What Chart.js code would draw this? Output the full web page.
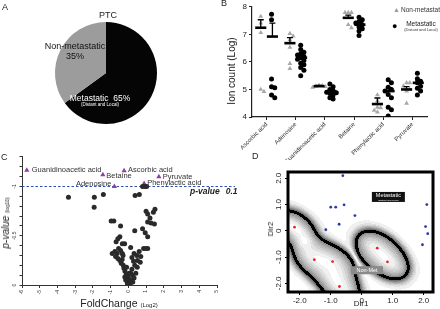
<!DOCTYPE html>
<html><head><meta charset="utf-8">
<script src="https://cdn.jsdelivr.net/npm/chart.js@4.4.1/dist/chart.umd.min.js"></script>
<style>
body{margin:0;width:440px;height:309px;position:relative;overflow:hidden;background:#fff;font-family:"Liberation Sans",Arial,sans-serif;color:#222}
canvas{position:absolute}
.t{position:absolute;white-space:nowrap;line-height:1}
.c{transform:translate(-50%,-50%)}
.r{transform:translate(-50%,-50%) rotate(-90deg)}
</style></head><body>
<canvas id="ca" width="220" height="150" style="left:0;top:0"></canvas>
<canvas id="cb" width="220" height="160" style="left:220px;top:0"></canvas>
<canvas id="cc" width="240" height="159" style="left:0;top:150px"></canvas>
<canvas id="cd" width="170" height="149" style="left:270px;top:160px"></canvas>

<div class="t" style="left:2px;top:3px;font-size:9px">A</div>
<div class="t" style="left:221px;top:-1px;font-size:9px">B</div>
<div class="t" style="left:1px;top:153px;font-size:9px">C</div>
<div class="t" style="left:252px;top:152px;font-size:9px">D</div>

<div class="t c" style="left:108px;top:15px;font-size:9px">PTC</div>
<div class="t c" style="left:75px;top:46px;font-size:9px;color:#111">Non-metastatic</div>
<div class="t c" style="left:75px;top:56px;font-size:9px;color:#111">35%</div>
<div class="t c" style="left:100px;top:98px;font-size:8.5px;color:#fff">Metastatic&nbsp; 65%</div>
<div class="t c" style="left:100px;top:104.5px;font-size:4.5px;color:#fff">(Distant and Local)</div>

<div class="t r" style="left:232px;top:71px;font-size:10px">Ion count (Log)</div>
<div class="t" style="left:393px;top:6px;font-size:7px;color:#9a9a9a">&#9650;</div>
<div class="t" style="left:401px;top:6.5px;font-size:6.5px;color:#333">Non-metastatic</div>
<div class="t" style="left:392px;top:22px;font-size:9px;color:#000">&#9679;</div>
<div class="t c" style="left:421px;top:24px;font-size:6.5px;color:#222">Metastatic</div>
<div class="t c" style="left:421px;top:30px;font-size:4px;color:#333">(Distant and Local)</div>

<div class="t r" style="left:6px;top:223px;font-size:10px"><i>p-value</i> <span style="font-size:5px">(log10)</span></div>
<div class="t c" style="left:119px;top:303px;font-size:10.5px">FoldChange <span style="font-size:6px">(Log2)</span></div>
<div class="t" style="left:190px;top:187px;font-size:8.5px;font-weight:bold;font-style:italic">p-value<span style="margin-left:6px">0.1</span></div>

<div class="t c" style="left:361px;top:304px;font-size:8px">Dir1</div>
<div class="t r" style="left:271px;top:229px;font-size:8px">Dir2</div>

<script>
// ---------- DATA ----------
// Panel A
const pieLabels = ['Metastatic', 'Non-metastatic'];
const pieValues = [65, 35];

// Panel B
const categoriesB = ['Ascorbic acid', 'Adenosine', 'Guanidinoacetic acid', 'Betaine', 'Phenylactic acid', 'Pyruvate'];
const nonMetIon = [
  [7.65, 7.41, 7.06, 5.0, 4.92],
  [7.03, 6.94, 6.8, 6.53, 5.94, 5.76],
  [5.15, 5.13, 5.11, 5.1, 5.08],
  [7.79, 7.79, 7.79, 7.35, 7.24],
  [4.8, 4.59, 4.35, 4.33, 4.24, 4.18],
  [5.24, 5.24, 5.12, 4.94, 5.0, 4.5]
];
const metIon = [
  [7.73, 7.53, 5.38, 5.1, 5.06, 4.8, 4.7],
  [6.6, 6.45, 6.35, 6.3, 6.25, 6.2, 6.15, 6.1, 6.05, 5.95, 5.9, 5.8, 5.7, 5.5],
  [5.2, 5.1, 5.0, 4.95, 4.9, 4.88, 4.85, 4.8, 4.7, 4.65],
  [7.62, 7.53, 7.47, 7.41, 7.35, 7.27, 7.2, 7.12, 6.96],
  [5.35, 5.24, 5.08, 5.0, 4.94, 4.82, 4.7, 4.35, 4.26, 4.04],
  [5.59, 5.39, 5.3, 5.24, 5.12, 5.04, 4.94, 4.8]
];
const nonMetMean = [7.24, 6.68, 5.12, 7.6, 4.47, 5.0];
const metMean = [6.92, 6.15, 4.93, 7.35, 4.94, 5.24];
const nonMetSem = [0.29, 0.2, 0.03, 0.1, 0.22, 0.1];
const metSem = [0.49, 0.1, 0.05, 0.08, 0.12, 0.1];

// Panel C
const foldChange = [-3.38,-1.92,-1.93,-1.41,0.38,0.62,0.8,0.92,1.03,
 -0.97,-0.82,-0.44,0.36,1.0,1.09,1.22,1.5,1.41,1.09,1.28,1.47,0.8,0.95,1.09,
 -0.48,-0.59,-0.69,-0.34,-0.21,0.13,0.86,0.99,1.09,-0.76,-0.91,-0.63,-0.44,-0.34,
 0.32,0.48,0.61,0.7,0.51,0.67,0.29,0.36,-0.72,-0.59,-0.48,-0.4,-0.29,-0.25,
 -0.19,-0.11,-0.06,0,0.04,-0.06,0.1,0.13,0.23,0.32,0.42,
 -0.15,0.15,0.05,-0.1,0.2,-0.02,0.06,-0.2,0.25,-0.3,0.2,0.5,-0.55,-0.35];
const logP = [-0.89,-0.89,-0.79,-0.92,-0.91,-0.92,-1.0,-1.0,-1.0,
 -0.65,-0.65,-0.6,-0.55,-0.75,-0.72,-0.68,-0.77,-0.74,-0.64,-0.63,-0.62,-0.57,-0.53,-0.49,
 -0.49,-0.47,-0.44,-0.42,-0.42,-0.38,-0.37,-0.37,-0.37,-0.34,-0.32,-0.32,-0.35,-0.32,
 -0.32,-0.3,-0.34,-0.29,-0.25,-0.23,-0.24,-0.2,-0.29,-0.27,-0.25,-0.22,-0.2,-0.17,
 -0.14,-0.11,-0.09,-0.07,-0.04,-0.02,-0.01,-0.12,-0.1,-0.07,-0.12,
 -0.05,-0.05,-0.12,-0.18,-0.16,-0.01,0,-0.08,-0.03,-0.3,-0.28,-0.18,-0.37,-0.26];
const sigNames = ['Guanidinoacetic acid','Betaine','Ascorbic acid','Pyruvate','Adenosine','Phenylactic acid'];
const sigFold = [-5.73,-1.44,-0.24,1.72,-0.79,0.89];
const sigLogP = [-1.165,-1.12,-1.16,-1.10,-1.0,-1.03];
const pThreshold = -1; // log10(0.1)

// Panel D
const nonMetDir1 = [-2.17,-1.53,-0.94,-0.72,0.5,0.83];
const nonMetDir2 = [0.14,-1.1,-1.17,-2.12,-0.66,-1.18];
const metDir1 = [-0.61,-1.0,-0.84,-0.57,-0.22,-0.73,-1.16,2.1,2.06,2.13,1.96];
const metDir2 = [2.1,0.9,0.9,0.99,0.58,0.25,0.04,1.0,0.16,-0.11,-0.53];

// ---------- COMMON ----------
Chart.defaults.font.family = '"Liberation Sans", Arial, sans-serif';
Chart.defaults.color = '#222';
const base = {responsive:false, animation:false, devicePixelRatio:1,
  plugins:{legend:{display:false}, tooltip:{enabled:false}}};

// ---------- A ----------
new Chart('ca', {type:'pie',
  data:{labels:pieLabels, datasets:[{data:pieValues, backgroundColor:['#050505','#9c9c9c'], borderWidth:0}]},
  options:{...base, layout:{padding:{left:55,right:63,top:22,bottom:26}}}});

// ---------- B ----------
function swarm(vals, center, step, thr){
  const placed = [];
  return vals.map(v => {
    for (const k of [0,1,-1,2,-2,3,-3]) {
      const x = center + k*step;
      if (!placed.some(p => Math.abs(p.y-v) < thr && Math.abs(p.x-x) < step*0.9)) { placed.push({x,y:v}); return {x,y:v}; }
    }
    placed.push({x:center,y:v}); return {x:center,y:v};
  });
}
const grayPts = [], blackPts = [];
categoriesB.forEach((c,i) => {
  grayPts.push(...swarm(nonMetIon[i], i-0.2, 0.11, 0.14));
  blackPts.push(...swarm(metIon[i], i+0.17, 0.11, 0.14));
});
const meanPlugin = {id:'means', afterDatasetsDraw(chart){
  const {ctx, scales:{x,y}} = chart;
  ctx.save(); ctx.strokeStyle = '#000';
  categoriesB.forEach((c,i) => {
    [[i-0.2, nonMetMean[i], nonMetSem[i]], [i+0.2, metMean[i], metSem[i]]].forEach(([cx,m,s]) => {
      const px = x.getPixelForValue(cx), py = y.getPixelForValue(m), pt = y.getPixelForValue(m+s);
      const hw = (x.getPixelForValue(1)-x.getPixelForValue(0))*0.19;
      ctx.lineWidth = 1.3; ctx.beginPath(); ctx.moveTo(px,py); ctx.lineTo(px,pt);
      ctx.moveTo(px-3,pt); ctx.lineTo(px+3,pt); ctx.stroke();
      ctx.lineWidth = 2.6; ctx.beginPath(); ctx.moveTo(px-hw,py); ctx.lineTo(px+hw,py); ctx.stroke();
    });
  });
  ctx.restore();
}};
new Chart('cb', {type:'scatter',
  data:{datasets:[
    {data:grayPts, pointStyle:'triangle', radius:2.8, backgroundColor:'#a8a8a8', borderColor:'#a8a8a8', borderWidth:0},
    {data:blackPts, pointStyle:'circle', radius:2.5, backgroundColor:'#000', borderColor:'#000', borderWidth:0}
  ]},
  options:{...base, layout:{padding:{left:0,right:13,top:3,bottom:0}},
    scales:{
      x:{type:'linear', min:-0.5, max:5.5,
        afterBuildTicks:s => { s.ticks = categoriesB.map((c,i) => ({value:i})); },
        afterFit:s => { s.height = 43; },
        ticks:{callback:(v) => categoriesB[v], minRotation:45, maxRotation:45, autoSkip:false, font:{size:6}, color:'#333', padding:1},
        grid:{drawOnChartArea:false, tickLength:3, color:'#222'}, border:{color:'#222', width:1.2}},
      y:{min:4, max:8, afterFit:s => { s.width = 32; },
        ticks:{stepSize:1, font:{size:8}, color:'#222', padding:2},
        grid:{drawOnChartArea:false, tickLength:3, color:'#222'}, border:{color:'#222', width:1.2}}
    }},
  plugins:[meanPlugin]});

// ---------- C ----------
const labelOffsets = [[5,0,'left'],[3.5,1.5,'left'],[4,-0.5,'left'],[4,0.5,'left'],[-3,-3,'right'],[3,-0.5,'left']];
const volcanoPlugin = {id:'volcano',
  beforeDatasetsDraw(chart){
    const {ctx, chartArea:a, scales:{x,y}} = chart;
    const py = y.getPixelForValue(pThreshold);
    ctx.save(); ctx.strokeStyle = '#2f4fb5'; ctx.lineWidth = 1.1; ctx.setLineDash([2.5,2]);
    ctx.beginPath(); ctx.moveTo(a.left, py); ctx.lineTo(a.right+18, py); ctx.stroke(); ctx.restore();
  },
  afterDatasetsDraw(chart){
    const {ctx, chartArea:a, scales:{x,y}} = chart;
    ctx.save(); ctx.font = '7.5px "Liberation Sans", Arial'; ctx.fillStyle = '#333'; ctx.textBaseline = 'middle';
    sigNames.forEach((n,i) => {
      const [dx,dy,al] = labelOffsets[i];
      ctx.textAlign = al;
      ctx.fillText(n, x.getPixelForValue(sigFold[i])+dx, y.getPixelForValue(sigLogP[i])+dy);
    });
    ctx.font = '5px "Liberation Sans", Arial'; ctx.fillStyle = '#333'; ctx.textAlign = 'center';
    [[0,'0'],[-0.5,'-0.5'],[-1,'-1']].forEach(([v,t]) => {
      ctx.save(); ctx.translate(a.left-7, y.getPixelForValue(v)); ctx.rotate(-Math.PI/2); ctx.fillText(t,0,0); ctx.restore();
    });
    ctx.restore();
  }};
new Chart('cc', {type:'scatter',
  data:{datasets:[
    {data:foldChange.map((f,i) => ({x:f, y:logP[i]})), pointStyle:'circle', radius:2.5, backgroundColor:'#2a2a2a', borderWidth:0},
    {data:sigFold.map((f,i) => ({x:f, y:sigLogP[i]})), pointStyle:'triangle', radius:3, backgroundColor:'#8d3fa8', borderWidth:0}
  ]},
  options:{...base, layout:{padding:{left:0,right:23,top:2,bottom:0}},
    scales:{
      x:{type:'linear', min:-6, max:5, afterFit:s => { s.height = 24; },
        ticks:{stepSize:1, minRotation:90, maxRotation:90, font:{size:5}, color:'#333', padding:2},
        grid:{drawOnChartArea:false, tickLength:3, color:'#333'}, border:{color:'#333', width:1}},
      y:{type:'linear', min:-1.31, max:0, reverse:true, afterFit:s => { s.width = 22; },
        ticks:{stepSize:0.05, callback:() => '', font:{size:5}},
        grid:{drawOnChartArea:false, tickLength:2.5, color:'#333'}, border:{color:'#333', width:1}}
    }},
  plugins:[volcanoPlugin]});

// ---------- D ----------
const su = 0.52, sv = 0.34, level = 0.36;
function dens(xv, yv){
  let f = 0;
  for (let k = 0; k < nonMetDir1.length; k++) {
    const dx = xv-nonMetDir1[k], dy = yv-nonMetDir2[k];
    const u = (dx-dy)/Math.SQRT2, v = (dx+dy)/Math.SQRT2;
    f += Math.exp(-(u*u/(2*su*su) + v*v/(2*sv*sv)));
  }
  return f/level;
}
const densityPlugin = {id:'density',
  beforeDatasetsDraw(chart){
    const {ctx, chartArea:a, scales:{x,y}} = chart;
    const L = Math.round(a.left), T = Math.round(a.top);
    const w = Math.round(a.right)-L, h = Math.round(a.bottom)-T;
    const g = new Float32Array((w+2)*(h+2));
    for (let j = -1; j <= h; j++) { const yv = y.getValueForPixel(T+j+0.5);
      for (let i = -1; i <= w; i++) g[(j+1)*(w+2)+(i+1)] = dens(x.getValueForPixel(L+i+0.5), yv); }
    const img = ctx.createImageData(w, h);
    for (let j = 0; j < h; j++) for (let i = 0; i < w; i++) {
      const id = (j+1)*(w+2)+(i+1);
      const gx = (g[id+1]-g[id-1])/2, gy = (g[id+w+2]-g[id-w-2])/2;
      const grad = Math.sqrt(gx*gx+gy*gy)+1e-6;
      const d = (g[id]-1)/grad;
      let val;
      if (Math.abs(d) < 1.5) val = 0;
      else if (d < 0) val = 250-150*Math.exp(-(-d-1.5)/5.5);
      else val = 250-120*Math.exp(-(d-1.5)/6);
      val = Math.min(255, Math.round(val/16)*16);
      if (val >= 245) val = 255;
      const p = (j*w+i)*4; img.data[p] = img.data[p+1] = img.data[p+2] = val; img.data[p+3] = 255;
    }
    ctx.putImageData(img, L, T);
  },
  afterDraw(chart){
    const {ctx, chartArea:a, scales:{x,y}} = chart;
    ctx.save();
    ctx.lineWidth = 3; ctx.strokeStyle = '#000'; ctx.strokeRect(a.left, a.top, a.right-a.left, a.bottom-a.top);
    const mx = x.getPixelForValue(0.86), my = y.getPixelForValue(1.29);
    ctx.fillStyle = '#111'; ctx.fillRect(mx-16.5, my-5, 33, 10);
    ctx.fillStyle = '#fff'; ctx.textAlign = 'center'; ctx.textBaseline = 'middle';
    ctx.font = '5.5px "Liberation Sans", Arial'; ctx.fillText('Metastatic', mx, my-1.5);
    ctx.font = '2.5px "Liberation Sans", Arial'; ctx.fillText('(Distant and Local)', mx, my+3);
    const nx = x.getPixelForValue(0.17), ny = y.getPixelForValue(-1.5);
    ctx.fillStyle = '#8a8a8a'; ctx.fillRect(nx-16, ny-4, 32, 8);
    ctx.fillStyle = '#fff'; ctx.font = '5.5px "Liberation Sans", Arial'; ctx.fillText('Non-Met', nx, ny);
    ctx.fillStyle = '#222'; ctx.font = '8px "Liberation Sans", Arial';
    [-2,-1,0,1,2].forEach(v => {
      ctx.save(); ctx.translate(a.left-9, y.getPixelForValue(v)); ctx.rotate(-Math.PI/2);
      ctx.fillText(v === 0 ? '0' : v.toFixed(1), 0, 0); ctx.restore();
    });
    ctx.restore();
  }};
new Chart('cd', {type:'scatter',
  data:{datasets:[
    {data:nonMetDir1.map((v,i) => ({x:v, y:nonMetDir2[i]})), radius:1.4, backgroundColor:'#e3262b', borderWidth:0},
    {data:metDir1.map((v,i) => ({x:v, y:metDir2[i]})), radius:1.4, backgroundColor:'#2a3aa5', borderWidth:0}
  ]},
  options:{...base, layout:{padding:{left:0,right:7,top:12,bottom:0}},
    scales:{
      x:{type:'linear', min:-2.38, max:2.3, afterFit:s => { s.height = 17; },
        ticks:{stepSize:1, includeBounds:false, callback:v => v === 0 ? '0' : Number(v).toFixed(1), font:{size:8}, color:'#222', padding:1, maxRotation:0},
        grid:{drawOnChartArea:false, tickLength:3, color:'#000'}, border:{display:false}},
      y:{type:'linear', min:-2.33, max:2.24, afterFit:s => { s.width = 18; },
        ticks:{stepSize:1, includeBounds:false, callback:() => '', font:{size:8}},
        grid:{drawOnChartArea:false, tickLength:3, color:'#000'}, border:{display:false}}
    }},
  plugins:[densityPlugin]});
</script>
</body></html>
